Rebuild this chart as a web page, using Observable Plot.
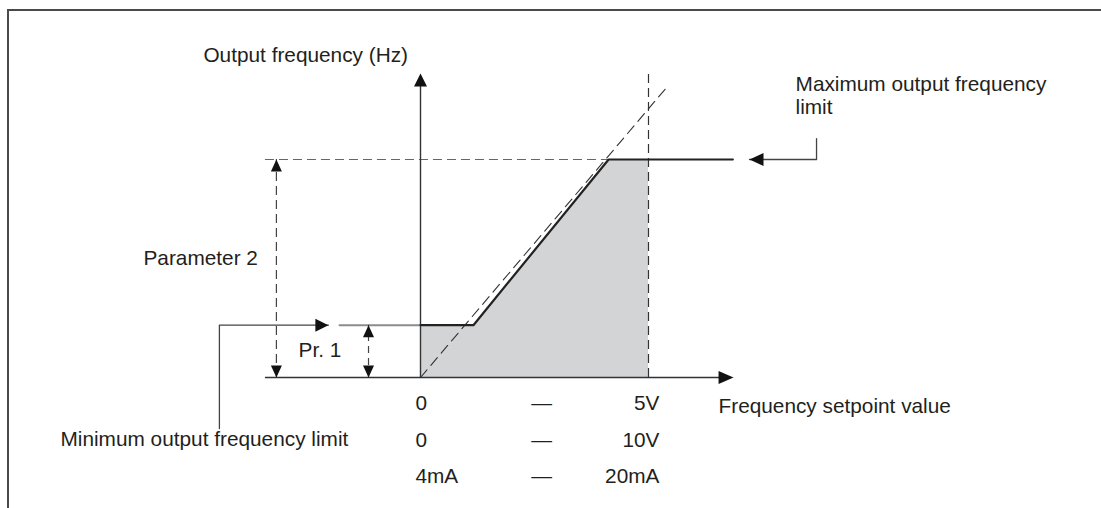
<!DOCTYPE html>
<html><head><meta charset="utf-8">
<script src="https://cdn.jsdelivr.net/npm/d3@7"></script>
<script src="https://cdn.jsdelivr.net/npm/@observablehq/plot@0.6"></script>
<style>
html,body{margin:0;padding:0;background:#fff;overflow:hidden;}
#wrap{position:relative;width:1101px;height:508px;overflow:hidden;}
#frame{position:absolute;left:7px;top:9px;width:1200px;height:600px;border-top:2px solid #4a4a4a;border-left:2px solid #4a4a4a;pointer-events:none;}
#wrap svg{position:absolute;left:0;top:0;}
</style></head><body><div id="wrap"><div id="frame"></div></div>
<script>
// Units: x = frequency setpoint (% of full scale), y = output frequency (% of maximum limit)
const minFreq = 24;
const maxFreq = 100;
const setpointFull = 100;
const curveX = [0, 23.2, 82.5, 137];
const curveY = [24, 24, 100, 100];
const lowLeadX = [-35.5, 0];
const gainX = [0, 107.9];
const gainY = [0, 133];
const rowLeft = ["0", "0", "4mA"];
const rowDash = ["\u2014", "\u2014", "\u2014"];
const rowRight = ["5V", "10V", "20mA"];
const rowY = [-14.7, -31.7, -48.2];
const labelTexts = ["Output frequency (Hz)", "Maximum output frequency\nlimit", "Parameter 2", "Pr. 1", "Frequency setpoint value", "Minimum output frequency limit"];
const labelX = [-95.2, 164.5, -121.5, -53.5, 130.7, -157.9];
const labelY = [144.5, 121.1, 51.8, 9.6, -16.1, -31.2];

const ink = "#231f20";
const fs = 20.8;

const curve = curveX.map((x, i) => ({x, y: curveY[i]}));
const shade = curve.filter(d => d.x <= setpointFull).concat([{x: setpointFull, y: maxFreq}]);
const rows = rowLeft.map((l, i) => ({l, d: rowDash[i], r: rowRight[i], y: rowY[i]}));
const labels = labelTexts.map((t, i) => ({t, x: labelX[i], y: labelY[i]}));

function arrowHead(dir, L = 13, W = 12) {
  return {draw(ctx) {
    const p = {
      right: [[0, 0], [-L, -W / 2], [-L, W / 2]],
      left: [[0, 0], [L, -W / 2], [L, W / 2]],
      up: [[0, 0], [-W / 2, L], [W / 2, L]],
      down: [[0, 0], [-W / 2, -L], [W / 2, -L]]
    }[dir];
    ctx.moveTo(p[0][0], p[0][1]); ctx.lineTo(p[1][0], p[1][1]); ctx.lineTo(p[2][0], p[2][1]); ctx.closePath();
  }};
}
const arrows = [
  {x: 0, y: 139.4, s: arrowHead("up", 13, 13)},
  {x: 137.3, y: 0, s: arrowHead("right", 15, 13)},
  {x: 144.3, y: maxFreq, s: arrowHead("left", 14, 13)},
  {x: -40.4, y: minFreq, s: arrowHead("right", 13, 13)},
  {x: -63.2, y: maxFreq, s: arrowHead("up", 12, 11)},
  {x: -63.2, y: 0, s: arrowHead("down", 12, 11)},
  {x: -22.8, y: minFreq, s: arrowHead("up", 12, 11)},
  {x: -22.8, y: 0, s: arrowHead("down", 12, 11)}
];

const minConn = [{x: -88.2, y: -23.4}, {x: -88.2, y: minFreq}, {x: -40.4, y: minFreq}];
const maxConn = [{x: 144.3, y: maxFreq}, {x: 173.7, y: maxFreq}, {x: 173.7, y: 109.6}];

const chart = Plot.plot({
  width: 1101, height: 508, margin: 0,
  x: {domain: [0, 100], range: [420, 648], axis: null},
  y: {domain: [0, 100], range: [377, 159], axis: null},
  style: {fontFamily: "'Liberation Sans', Arial, Helvetica, sans-serif", background: "transparent", overflow: "visible"},
  marks: [
    Plot.areaY(shade, {x: "x", y1: 0, y2: "y", fill: "#d3d4d6", curve: "linear"}),
    Plot.ruleY([maxFreq], {x1: -68, x2: 82.5, stroke: "#666", strokeWidth: 1.2, strokeDasharray: "9,5"}),
    Plot.ruleX([setpointFull], {y1: 0, y2: 141.3, stroke: "#333", strokeWidth: 1.2, strokeDasharray: "9,5"}),
    Plot.line(gainX.map((x, i) => ({x, y: gainY[i]})), {x: "x", y: "y", stroke: "#333", strokeWidth: 1.1, strokeDasharray: "10,6"}),
    Plot.ruleX([0], {y1: 0, y2: 137, stroke: "#333", strokeWidth: 1.4}),
    Plot.ruleY([0], {x1: -68, x2: 134, stroke: "#333", strokeWidth: 1.5}),
    Plot.line(lowLeadX.map(x => ({x, y: minFreq})), {x: "x", y: "y", stroke: "#8c8c8c", strokeWidth: 2}),
    Plot.line(curve, {x: "x", y: "y", stroke: "#222", strokeWidth: 2.2}),
    Plot.ruleX([-63.2], {y1: 0, y2: maxFreq, stroke: "#444", strokeWidth: 1.2, strokeDasharray: "9,5"}),
    Plot.ruleX([-22.8], {y1: 0, y2: minFreq, stroke: "#444", strokeWidth: 1.2, strokeDasharray: "7,5"}),
    Plot.line(minConn, {x: "x", y: "y", stroke: "#444", strokeWidth: 1.3}),
    Plot.line(maxConn, {x: "x", y: "y", stroke: "#444", strokeWidth: 1.3}),
    ...arrows.map(a => Plot.dot([a], {x: "x", y: "y", symbol: () => a.s, r: 5, fill: "#111", stroke: "none"})),
    Plot.text(labels, {x: "x", y: "y", text: "t", textAnchor: "start", lineAnchor: "bottom", lineHeight: 1.06, fontSize: fs, fill: ink}),
    Plot.text(rows, {x: -2.2, y: "y", text: "l", textAnchor: "start", lineAnchor: "bottom", fontSize: fs, fill: ink}),
    Plot.text(rows, {x: 53.1, y: "y", text: "d", textAnchor: "middle", lineAnchor: "bottom", fontSize: fs, fill: ink}),
    Plot.text(rows, {x: 104.8, y: "y", text: "r", textAnchor: "end", lineAnchor: "bottom", fontSize: fs, fill: ink})
  ]
});
document.getElementById("wrap").prepend(chart);
</script></body></html>
